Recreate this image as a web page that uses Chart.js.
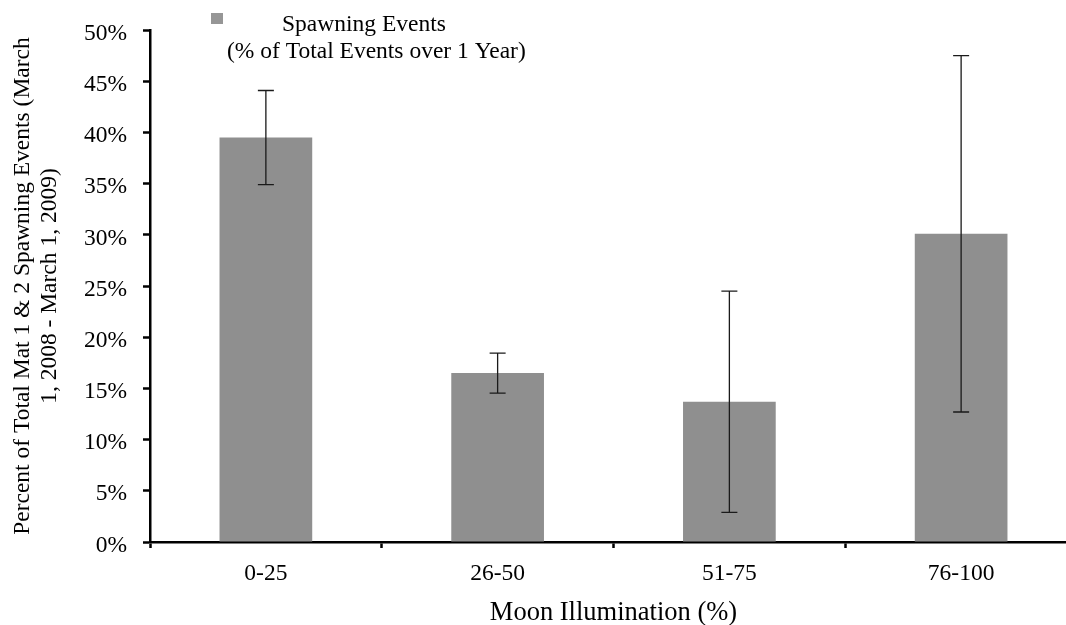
<!DOCTYPE html>
<html>
<head>
<meta charset="utf-8">
<title>Spawning events by moon illumination</title>
<script src="https://cdn.jsdelivr.net/npm/chart.js@4.4.1/dist/chart.umd.min.js"></script>
<style>
  html, body { margin: 0; padding: 0; background: #fff; overflow: hidden; }
  #wrap { width: 1080px; height: 625px; }
</style>
</head>
<body>
<div id="wrap"><canvas id="myChart"></canvas></div>
<script>
// moon illumination classes and share of spawning events (%)
const categories = ['0-25', '26-50', '51-75', '76-100'];
const spawnPct = [39.5, 16.5, 13.7, 30.1];
const errPct = [4.6, 1.95, 10.8, 17.4];
const yTicks = [0, 5, 10, 15, 20, 25, 30, 35, 40, 45, 50];

const FONT = "'Liberation Serif', 'Times New Roman', serif";
const BAR_COLOR = '#8f8f8f';

// symmetric error bars on top of each bar
const errorBars = {
  id: 'errorBars',
  afterDatasetsDraw(chart) {
    const ctx = chart.ctx;
    const meta = chart.getDatasetMeta(0);
    const y = chart.scales.y;
    ctx.save();
    ctx.strokeStyle = '#1a1a1a';
    ctx.lineWidth = 1.3;
    meta.data.forEach((bar, i) => {
      const v = spawnPct[i];
      const e = errPct[i];
      const top = y.getPixelForValue(v + e);
      const bot = y.getPixelForValue(v - e);
      const x = bar.x;
      ctx.beginPath();
      ctx.moveTo(x, top);
      ctx.lineTo(x, bot);
      ctx.moveTo(x - 8, top);
      ctx.lineTo(x + 8, top);
      ctx.moveTo(x - 8, bot);
      ctx.lineTo(x + 8, bot);
      ctx.stroke();
    });
    ctx.restore();
  }
};

// legend box sitting inside the plot, top left
const innerLegend = {
  id: 'innerLegend',
  afterDraw(chart) {
    const ctx = chart.ctx;
    ctx.save();
    ctx.fillStyle = '#969696';
    ctx.fillRect(211, 13, 12, 11);
    ctx.fillStyle = '#000';
    ctx.font = '23.5px ' + FONT;
    ctx.textAlign = 'left';
    ctx.textBaseline = 'alphabetic';
    ctx.fillText('Spawning Events', 282, 31);
    ctx.fillText('(% of Total Events over 1 Year)', 227, 57.5);
    ctx.restore();
  }
};

const ctx = document.getElementById('myChart');

new Chart(ctx, {
  type: 'bar',
  data: {
    labels: categories,
    datasets: [{
      label: 'Spawning Events (% of Total Events over 1 Year)',
      data: spawnPct,
      backgroundColor: BAR_COLOR,
      borderWidth: 0,
      categoryPercentage: 1,
      barPercentage: 0.4
    }]
  },
  options: {
    responsive: true,
    maintainAspectRatio: false,
    animation: false,
    layout: { padding: { top: 26, right: 3, bottom: 0, left: 0 } },
    plugins: {
      legend: { display: false },
      tooltip: { enabled: false }
    },
    scales: {
      x: {
        grid: {
          drawOnChartArea: false,
          drawTicks: true,
          tickLength: 6,
          tickWidth: 2.5,
          tickColor: '#000'
        },
        border: { display: true, color: '#000', width: 2.5 },
        ticks: {
          color: '#000',
          padding: 12,
          font: { family: FONT, size: 23.5, lineHeight: 1.2 }
        },
        title: {
          display: true,
          text: 'Moon Illumination (%)',
          color: '#000',
          padding: 0,
          font: { family: FONT, size: 26.5, lineHeight: 0.92 }
        },
        afterFit(scale) { scale.height = 83; }
      },
      y: {
        min: 0,
        max: 50,
        afterBuildTicks(scale) {
          scale.ticks = yTicks.map(v => ({ value: v }));
        },
        grid: {
          drawOnChartArea: false,
          drawTicks: true,
          tickLength: 7,
          tickWidth: 2.5,
          tickColor: '#000'
        },
        border: { display: true, color: '#000', width: 2.5 },
        ticks: {
          color: '#000',
          padding: 16,
          labelOffset: 3.5,
          font: { family: FONT, size: 23.5 },
          callback: v => v + '%'
        },
        title: {
          display: true,
          text: ['Percent of Total Mat 1 & 2 Spawning Events (March', '1, 2008 - March 1, 2009)'],
          color: '#000',
          padding: { top: 9.5, bottom: 0 },
          font: { family: FONT, size: 23.5, lineHeight: '27px' }
        },
        afterFit(scale) { scale.width = 150; }
      }
    }
  },
  plugins: [errorBars, innerLegend]
});
</script>
</body>
</html>
